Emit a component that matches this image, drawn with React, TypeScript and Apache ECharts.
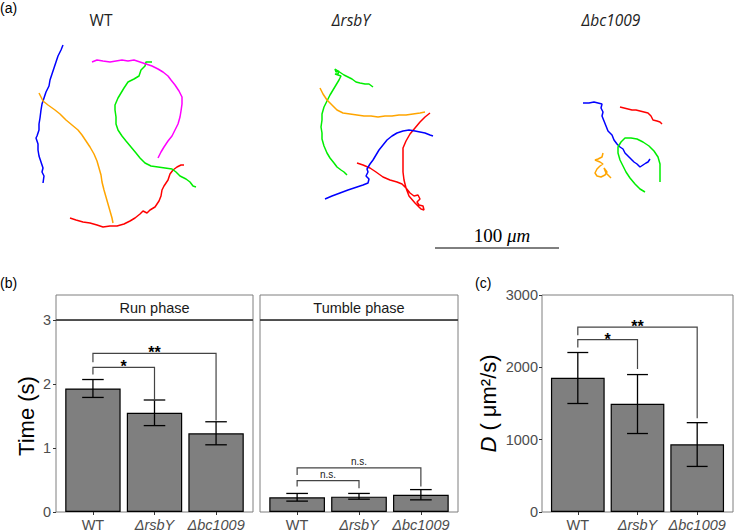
import React, { useEffect, useRef } from "react";
import * as echarts from "echarts";

const FONT = '"Liberation Sans", Arial, sans-serif';
const TITLE_FONT = '"Open Sans", "Noto Sans", sans-serif';
const SERIF = '"Liberation Serif", "DejaVu Serif", serif';

// ---------- Panel (a): trajectories (positions in panel pixel units) ----------
const WT_BLUE = [[63,45],[61,50],[58,56],[56,62],[54,68],[52,74],[50,80],[49,86],[46,92],[44,98],[42,104],[41,110],[40,118],[39,124],[39,130],[37,136],[36,138],[38,144],[38,150],[39,156],[41,162],[43,168],[42,172],[44,176],[43,183]];
const WT_ORANGE = [[39,93],[41,97],[43,101],[48,105],[55,110],[60,114],[66,120],[72,125],[78,130],[82,135],[86,141],[90,147],[94,154],[97,161],[99,168],[101,175],[102,182],[104,190],[106,197],[108,204],[110,211],[112,218],[113,223]];
const WT_RED = [[70,218],[76,220],[83,222],[90,223],[97,225],[103,227],[110,226],[117,226],[124,224],[130,221],[135,218],[140,214],[143,211],[147,213],[150,210],[155,207],[159,201],[161,196],[162,190],[164,186],[168,180],[170,174],[173,170],[177,167],[181,165],[184,165]];
const WT_GREEN = [[152,62],[146,62],[145,66],[141,70],[139,76],[134,79],[128,82],[124,88],[121,93],[118,98],[115,105],[115,110],[116,117],[116,124],[118,130],[122,136],[126,141],[131,147],[136,153],[140,158],[145,163],[151,166],[158,167],[165,168],[172,169],[176,172],[180,176],[186,179],[190,182],[193,186],[196,187]];
const WT_MAGENTA = [[92,62],[97,60],[103,61],[110,62],[116,61],[122,60],[128,61],[134,60],[140,62],[146,64],[152,66],[158,69],[163,72],[168,76],[171,80],[175,85],[179,91],[182,97],[182,104],[181,111],[180,117],[178,124],[175,130],[172,136],[168,141],[164,147],[161,152],[158,158]];

const RSBY_GREEN = [[373,87],[369,84],[365,84],[360,83],[356,82],[352,79],[348,77],[344,75],[341,73],[338,71],[335,69],[336,72],[339,71],[338,74],[335,74],[341,76],[339,80],[336,85],[333,90],[330,95],[327,101],[324,107],[322,114],[322,120],[321,127],[322,133],[322,139],[324,146],[327,153],[330,158],[334,163],[337,167],[341,170],[344,172],[347,175]];
const RSBY_ORANGE = [[320,88],[323,94],[327,100],[332,105],[337,110],[343,113],[350,114],[357,115],[364,116],[371,116],[378,117],[385,116],[392,116],[399,115],[406,115],[413,114],[420,113],[425,112]];
const RSBY_RED = [[357,163],[363,165],[370,168],[376,172],[383,177],[390,180],[397,182],[402,184],[406,188],[410,193],[414,196],[418,195],[420,199],[417,202],[419,205],[423,206],[424,210],[421,209],[415,203],[409,196],[406,188],[404,180],[403,172],[403,163],[403,155],[403,148],[406,141],[410,134],[415,128],[420,122],[425,117],[430,113]];
const RSBY_BLUE = [[325,199],[332,196],[340,193],[348,190],[357,187],[363,185],[368,183],[369,179],[366,176],[368,172],[367,169],[370,164],[373,160],[376,155],[379,150],[383,145],[387,140],[392,136],[397,133],[403,131],[409,130],[415,131],[420,132],[425,133],[430,135],[433,136]];

const BC_BLUE = [[583,103],[589,103],[594,102],[598,103],[602,104],[601,108],[603,112],[602,116],[604,121],[606,126],[608,131],[612,135],[614,140],[617,144],[620,147],[623,149],[625,153],[628,156],[631,159],[634,162],[637,164],[640,167],[643,165],[646,163],[648,162],[650,159]];
const BC_RED = [[620,107],[624,108],[628,109],[632,110],[636,110],[640,111],[644,112],[648,113],[651,116],[653,120],[657,121],[660,122],[662,124]];
const BC_GREEN = [[645,192],[640,189],[635,184],[630,178],[626,172],[623,166],[620,160],[618,153],[618,147],[621,142],[625,138],[631,138],[637,139],[643,142],[649,146],[654,151],[658,157],[660,164],[660,170],[660,176],[660,182]];
const BC_ORANGE = [[603,153],[602,157],[598,159],[595,160],[600,162],[603,164],[600,166],[597,169],[595,173],[597,176],[601,177],[605,175],[607,172],[604,168],[606,173],[609,176],[611,178]];

const SCALE_BAR = [[435,248],[559,248]];

// ---------- Panels (b), (c): bars ----------
const CATS = ["WT", "ΔrsbY", "Δbc1009"];

const RUN_MEAN = [1.93, 1.55, 1.23];
const RUN_LOW = [1.79, 1.35, 1.05];
const RUN_HIGH = [2.07, 1.75, 1.41];

const TUMBLE_MEAN = [0.23, 0.24, 0.27];
const TUMBLE_LOW = [0.17, 0.20, 0.19];
const TUMBLE_HIGH = [0.29, 0.29, 0.35];

const D_MEAN = [1855, 1495, 935];
const D_LOW = [1500, 1085, 630];
const D_HIGH = [2205, 1900, 1235];

// significance brackets: [from, to] category positions, bar height, left/right leg ends
const RUN_SIG_PAIRS = [[1, 2], [1, 3]];
const RUN_SIG_Y = [2.26, 2.48];
const RUN_SIG_LEFT = [2.15, 2.34];
const RUN_SIG_RIGHT = [1.74, 1.43];
const RUN_SIG_LABELS = ["*", "**"];

const TUMBLE_SIG_PAIRS = [[1, 2], [1, 3]];
const TUMBLE_SIG_Y = [0.49, 0.69];
const TUMBLE_SIG_LEFT = [0.40, 0.58];
const TUMBLE_SIG_RIGHT = [0.37, 0.40];
const TUMBLE_SIG_LABELS = ["n.s.", "n.s."];

const D_SIG_PAIRS = [[1, 2], [1, 3]];
const D_SIG_Y = [2382, 2555];
const D_SIG_LEFT = [2274, 2442];
const D_SIG_RIGHT = [1978, 1296];
const D_SIG_LABELS = ["*", "**"];

const Y_TICKS_TIME = [0, 1, 2, 3];
const Y_TICKS_D = [0, 1000, 2000, 3000];

function trajSeries(data: number[][], color: string) {
  return {
    type: "line",
    xAxisIndex: 0,
    yAxisIndex: 0,
    data,
    showSymbol: false,
    symbol: "none",
    clip: false,
    lineStyle: { color, width: 1.5 },
    silent: true,
  };
}

function catXAxis(gridIndex: number) {
  return {
    type: "value",
    gridIndex,
    min: 0.4,
    max: 3.6,
    axisLine: { show: false },
    splitLine: { show: false },
    axisTick: { show: true, customValues: [1, 2, 3], length: 3, lineStyle: { color: "#333", width: 1 } },
    axisLabel: {
      customValues: [1, 2, 3],
      margin: 5,
      formatter: (v: number) => {
        const i = Math.round(v) - 1;
        const name = CATS[i] ?? "";
        return i === 0 ? `{n|${name}}` : `{i|${name}}`;
      },
      rich: {
        n: { fontSize: 14.5, color: "#4d4d4d", fontFamily: FONT },
        i: { fontSize: 14.5, color: "#4d4d4d", fontFamily: FONT, fontStyle: "italic" },
      },
    },
  };
}

function barSeries(axisIndex: number, mean: number[]) {
  return {
    type: "bar",
    xAxisIndex: axisIndex,
    yAxisIndex: axisIndex,
    data: mean.map((v, i) => [i + 1, v]),
    barWidth: "90%",
    itemStyle: { color: "#7f7f7f", borderColor: "#000", borderWidth: 1.2 },
    silent: true,
    z: 2,
  };
}

function errSeries(axisIndex: number, low: number[], high: number[]) {
  return {
    type: "custom",
    xAxisIndex: axisIndex,
    yAxisIndex: axisIndex,
    data: low.map((l, i) => [i + 1, l, high[i]]),
    encode: { x: 0, y: [1, 2] },
    silent: true,
    z: 4,
    renderItem: (_p: any, api: any) => {
      const x = api.value(0);
      const lo = api.value(1);
      const hi = api.value(2);
      const w = 0.175;
      const t = api.coord([x, hi]);
      const b = api.coord([x, lo]);
      const tl = api.coord([x - w, hi]);
      const tr = api.coord([x + w, hi]);
      const bl = api.coord([x - w, lo]);
      const br = api.coord([x + w, lo]);
      const st = { stroke: "#000", lineWidth: 1.3 };
      return {
        type: "group",
        children: [
          { type: "line", shape: { x1: t[0], y1: t[1], x2: b[0], y2: b[1] }, style: st },
          { type: "line", shape: { x1: tl[0], y1: tl[1], x2: tr[0], y2: tr[1] }, style: st },
          { type: "line", shape: { x1: bl[0], y1: bl[1], x2: br[0], y2: br[1] }, style: st },
        ],
      };
    },
  };
}

function sigSeries(
  axisIndex: number,
  pairs: number[][],
  ys: number[],
  lefts: number[],
  rights: number[],
  labels: string[],
  small: boolean
) {
  return {
    type: "custom",
    xAxisIndex: axisIndex,
    yAxisIndex: axisIndex,
    data: pairs.map((p, i) => [p[0], p[1], ys[i], lefts[i], rights[i]]),
    encode: { x: [0, 1], y: [2, 3, 4] },
    silent: true,
    z: 5,
    renderItem: (params: any, api: any) => {
      const x1 = api.value(0);
      const x2 = api.value(1);
      const y = api.value(2);
      const yl = api.value(3);
      const yr = api.value(4);
      const a = api.coord([x1, yl]);
      const b = api.coord([x1, y]);
      const c = api.coord([x2, y]);
      const d = api.coord([x2, yr]);
      const label = labels[params.dataIndex];
      return {
        type: "group",
        children: [
          {
            type: "polyline",
            shape: { points: [a, b, c, d] },
            style: { stroke: "#444", lineWidth: 1.2, fill: null },
          },
          small
            ? {
                type: "text",
                x: (b[0] + c[0]) / 2,
                y: b[1] - 1,
                style: { text: label, align: "center", verticalAlign: "bottom", fontSize: 10, fill: "#222", fontFamily: FONT },
              }
            : {
                type: "text",
                x: (b[0] + c[0]) / 2,
                y: b[1] - 8.5,
                style: { text: label, align: "center", verticalAlign: "top", fontSize: 16, fontWeight: "bold", fill: "#000", fontFamily: FONT },
              },
        ],
      };
    },
  };
}

export default function App() {
  const ref = useRef<HTMLDivElement>(null);

  useEffect(() => {
    document.body.style.margin = "0";
    if (!ref.current) return;
    const chart = echarts.init(ref.current, undefined, { renderer: "svg" });

    const gridBorder = { show: true, borderColor: "#7f7f7f", borderWidth: 1, backgroundColor: "transparent" };
    const titleRich = {
      a: { fontSize: 15.5, fill: "#222", fontFamily: TITLE_FONT, fontWeight: "normal", fontStyle: "italic" },
    };

    const option: any = {
      animation: false,
      backgroundColor: "#fff",
      textStyle: { fontFamily: FONT },
      grid: [
        { left: 0, top: 0, width: 735, height: 260 },
        { left: 56, top: 320, width: 197, height: 194, ...gridBorder },
        { left: 260, top: 320, width: 198, height: 194, ...gridBorder },
        { left: 542, top: 295, width: 191, height: 219, ...gridBorder },
      ],
      xAxis: [
        { type: "value", gridIndex: 0, min: 0, max: 735, show: false },
        catXAxis(1),
        catXAxis(2),
        catXAxis(3),
      ],
      yAxis: [
        { type: "value", gridIndex: 0, min: 0, max: 260, inverse: true, show: false },
        {
          type: "value",
          gridIndex: 1,
          min: Y_TICKS_TIME[0],
          max: Y_TICKS_TIME[Y_TICKS_TIME.length - 1],
          interval: 1,
          axisLine: { show: false },
          splitLine: { show: false },
          axisTick: { show: true, length: 3, lineStyle: { color: "#333" } },
          axisLabel: { fontSize: 14.5, color: "#4d4d4d", margin: 5, showMinLabel: true, showMaxLabel: true, fontFamily: FONT },
          name: "Time (s)",
          nameLocation: "middle",
          nameRotate: 90,
          nameGap: 19,
          nameTextStyle: { fontSize: 22, color: "#000", fontFamily: FONT },
        },
        {
          type: "value",
          gridIndex: 2,
          min: Y_TICKS_TIME[0],
          max: Y_TICKS_TIME[Y_TICKS_TIME.length - 1],
          interval: 1,
          axisLine: { show: false },
          splitLine: { show: false },
          axisTick: { show: false },
          axisLabel: { show: false },
        },
        {
          type: "value",
          gridIndex: 3,
          min: Y_TICKS_D[0],
          max: Y_TICKS_D[Y_TICKS_D.length - 1],
          interval: 1000,
          axisLine: { show: false },
          splitLine: { show: false },
          axisTick: { show: true, length: 3, lineStyle: { color: "#333" } },
          axisLabel: {
            fontSize: 14.5,
            color: "#4d4d4d",
            margin: 4,
            showMinLabel: true,
            showMaxLabel: true,
            fontFamily: FONT,
            formatter: (v: number) => String(v),
          },
          name: "{i|D}{n| ( μm²/s)}",
          nameLocation: "middle",
          nameRotate: 90,
          nameGap: 43,
          nameTextStyle: {
            rich: {
              i: { fontSize: 22, color: "#000", fontStyle: "italic", fontFamily: FONT },
              n: { fontSize: 22, color: "#000", fontFamily: FONT },
            },
          },
        },
      ],
      series: [
        trajSeries(WT_BLUE, "#0000ff"),
        trajSeries(WT_ORANGE, "#ffa500"),
        trajSeries(WT_RED, "#ff0000"),
        trajSeries(WT_GREEN, "#00ee00"),
        trajSeries(WT_MAGENTA, "#ff00ff"),
        trajSeries(RSBY_GREEN, "#00ee00"),
        trajSeries(RSBY_ORANGE, "#ffa500"),
        trajSeries(RSBY_RED, "#ff0000"),
        trajSeries(RSBY_BLUE, "#0000ff"),
        trajSeries(BC_BLUE, "#0000ff"),
        trajSeries(BC_RED, "#ff0000"),
        trajSeries(BC_GREEN, "#00ee00"),
        trajSeries(BC_ORANGE, "#ffa500"),
        {
          type: "line",
          xAxisIndex: 0,
          yAxisIndex: 0,
          data: SCALE_BAR,
          showSymbol: false,
          symbol: "none",
          clip: false,
          lineStyle: { color: "#000", width: 1 },
          silent: true,
        },
        barSeries(1, RUN_MEAN),
        errSeries(1, RUN_LOW, RUN_HIGH),
        sigSeries(1, RUN_SIG_PAIRS, RUN_SIG_Y, RUN_SIG_LEFT, RUN_SIG_RIGHT, RUN_SIG_LABELS, false),
        barSeries(2, TUMBLE_MEAN),
        errSeries(2, TUMBLE_LOW, TUMBLE_HIGH),
        sigSeries(2, TUMBLE_SIG_PAIRS, TUMBLE_SIG_Y, TUMBLE_SIG_LEFT, TUMBLE_SIG_RIGHT, TUMBLE_SIG_LABELS, true),
        barSeries(3, D_MEAN),
        errSeries(3, D_LOW, D_HIGH),
        sigSeries(3, D_SIG_PAIRS, D_SIG_Y, D_SIG_LEFT, D_SIG_RIGHT, D_SIG_LABELS, false),
      ],
      graphic: [
        { type: "text", left: 0, top: 1, style: { text: "(a)", fontSize: 14, fill: "#000", fontFamily: FONT } },
        { type: "text", left: 0, top: 276, style: { text: "(b)", fontSize: 14, fill: "#000", fontFamily: FONT } },
        { type: "text", left: 475, top: 276, style: { text: "(c)", fontSize: 14, fill: "#000", fontFamily: FONT } },
        {
          type: "text",
          x: 101,
          y: 20,
          style: {
            text: "WT",
            fontSize: 15.5,
            fontWeight: "normal",
            fill: "#222",
            fontFamily: TITLE_FONT,
            align: "center",
            verticalAlign: "middle",
          },
        },
        {
          type: "text",
          x: 351,
          y: 20,
          style: { text: "{a|ΔrsbY}", align: "center", verticalAlign: "middle", rich: titleRich },
        },
        {
          type: "text",
          x: 611,
          y: 20,
          style: { text: "{a|Δbc1009}", align: "center", verticalAlign: "middle", rich: titleRich },
        },
        {
          type: "text",
          x: 502,
          y: 235,
          style: {
            text: "{a|100 }{b|μm}",
            align: "center",
            verticalAlign: "middle",
            rich: {
              a: { fontSize: 19, fill: "#000", fontFamily: SERIF, fontWeight: "normal" },
              b: { fontSize: 19, fill: "#000", fontFamily: SERIF, fontStyle: "italic", fontWeight: "normal" },
            },
          },
        },
        // facet strips
        {
          type: "rect",
          shape: { x: 56, y: 295, width: 197, height: 25 },
          style: { fill: "#fff", stroke: "#7f7f7f", lineWidth: 1 },
        },
        {
          type: "rect",
          shape: { x: 260, y: 295, width: 198, height: 25 },
          style: { fill: "#fff", stroke: "#7f7f7f", lineWidth: 1 },
        },
        { type: "line", shape: { x1: 56, y1: 320, x2: 253, y2: 320 }, style: { stroke: "#333", lineWidth: 1.3 } },
        { type: "line", shape: { x1: 260, y1: 320, x2: 458, y2: 320 }, style: { stroke: "#333", lineWidth: 1.3 } },
        {
          type: "text",
          x: 154.5,
          y: 308,
          style: { text: "Run phase", fontSize: 14.5, fill: "#1a1a1a", fontFamily: FONT, align: "center", verticalAlign: "middle" },
        },
        {
          type: "text",
          x: 359,
          y: 308,
          style: { text: "Tumble phase", fontSize: 14.5, fill: "#1a1a1a", fontFamily: FONT, align: "center", verticalAlign: "middle" },
        },
      ],
    };

    chart.setOption(option);
    return () => chart.dispose();
  }, []);

  return <div ref={ref} style={{ width: 735, height: 532 }} />;
}
